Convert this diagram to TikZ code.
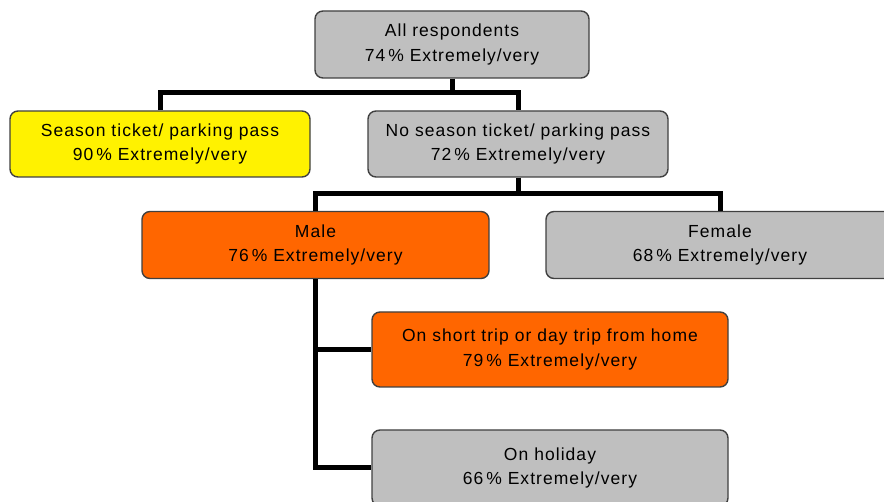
\documentclass[tikz,border=0pt]{standalone}
\usepackage{fontspec}
\setmainfont{Liberation Sans}[LetterSpace=6]
\begin{document}
\begin{tikzpicture}[x=1pt,y=-1pt,
  box/.style={draw=black!75, line width=1.4pt, rounded corners=8pt,
    align=center, inner sep=0pt, font=\fontsize{17.5}{24.5}\selectfont},
  grey/.style={box, fill=gray!50},
  yellowbox/.style={box, fill=yellow},
  orangebox/.style={box, fill={rgb,255:red,255;green,102;blue,0}},
  link/.style={line width=5pt, draw=black}]
\useasboundingbox (0,0) rectangle (884,502);
\clip (0,0) rectangle (884,502);

% tree nodes
\node[grey, minimum width=274pt, minimum height=67pt] (all) at (452,44.5)
  {All respondents\\74\,\% Extremely/very};
\node[yellowbox, minimum width=300pt, minimum height=66pt] (season) at (160,144)
  {Season ticket/ parking pass\\90\,\% Extremely/very};
\node[grey, minimum width=300pt, minimum height=66pt] (noseason) at (518,144)
  {No season ticket/ parking pass\\72\,\% Extremely/very};
\node[orangebox, minimum width=347pt, minimum height=67pt] (male) at (315.5,245)
  {Male\\76\,\% Extremely/very};
\node[grey, minimum width=348pt, minimum height=67pt] (female) at (720,245)
  {Female\\68\,\% Extremely/very};
\node[orangebox, minimum width=356pt, minimum height=75pt] (short) at (550,349.5)
  {On short trip or day trip from home\\79\,\% Extremely/very};
\node[grey, minimum width=356pt, minimum height=76pt] (holiday) at (550,468)
  {On holiday\\66\,\% Extremely/very};

% connectors
\coordinate (bar1) at (452,93);
\coordinate (bar2) at (518,194);
\draw[link] (all.south) -- (bar1);
\draw[link] (season.north) |- (bar1) -| (noseason.north);
\draw[link] (noseason.south) -- (bar2);
\draw[link] (male.north) |- (bar2) -| (female.north);
\draw[link] (male.south) |- (short.west);
\draw[link] (male.south) |- (holiday.west);
\end{tikzpicture}
\end{document}
